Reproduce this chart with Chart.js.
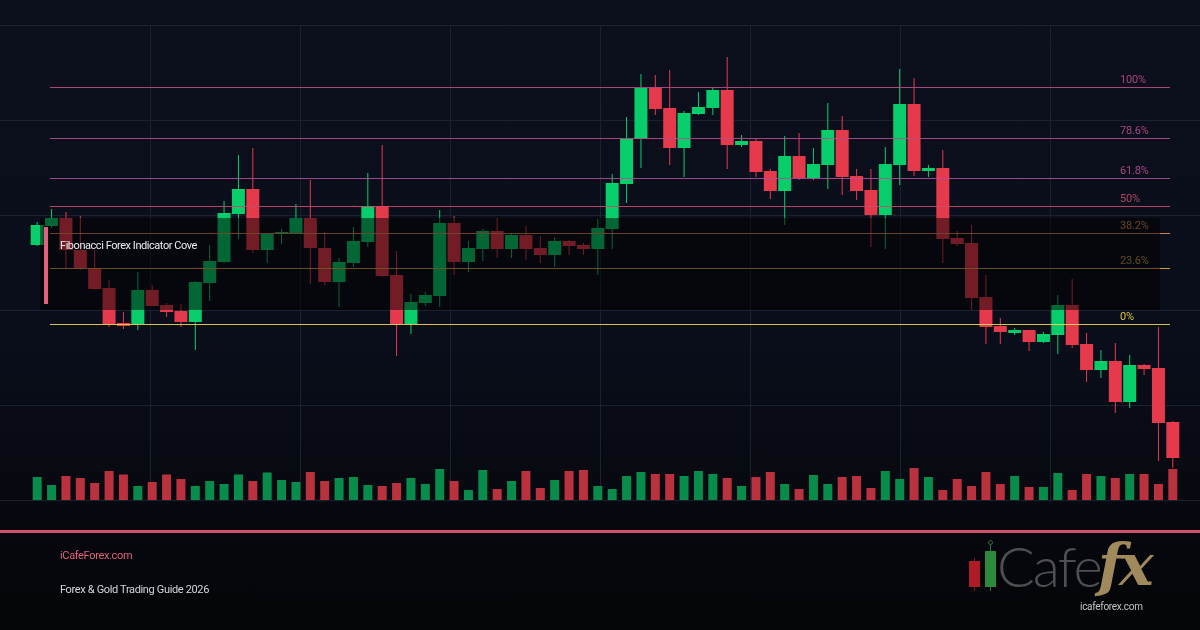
<!DOCTYPE html>
<html>
<head>
<meta charset="utf-8">
<script src="https://cdn.jsdelivr.net/npm/chart.js@4.4.1/dist/chart.umd.min.js"></script>
<style>
  html, body { margin: 0; padding: 0; }
  body {
    width: 1200px; height: 630px; overflow: hidden; position: relative;
    background: linear-gradient(180deg, #0c101d 0%, #0a0e1a 55%, #07080e 84%, #040508 100%);
    font-family: Roboto, 'Noto Sans', sans-serif;
  }
  #chart { position: absolute; left: 0; top: 0; }
  .fib-label { position: absolute; left: 1120px; font-size: 11px; line-height: 13px; letter-spacing: -0.2px; white-space: nowrap; }
  #shade { position: absolute; left: 40px; top: 218px; width: 1120px; height: 92px; background: rgba(0, 0, 0, 0.5); }
  #accent { position: absolute; left: 44px; top: 227px; width: 4px; height: 77px; background: #e0607e; }
  #title { position: absolute; left: 60px; top: 239px; color: #ececf0; font-size: 11px; line-height: 13px; letter-spacing: -0.45px; white-space: nowrap; }
  #rule { position: absolute; left: 0; top: 530px; width: 1200px; height: 3px; background: #d2506e; }
  .foot { position: absolute; left: 60px; font-size: 11px; line-height: 13px; letter-spacing: -0.35px; white-space: nowrap; }
  #site { top: 549px; color: #e0607e; }
  #guide { top: 583px; color: #d6d6da; }
  .stick { position: absolute; }
  #cafe { position: absolute; left: 997px; top: 533px; font-family: Lato, sans-serif; font-weight: 300; font-size: 56px; line-height: 66px; letter-spacing: -2px; color: #4f4f52; }
  #fx { position: absolute; left: 1098px; top: 530px; font-family: 'DejaVu Serif', serif; font-style: italic; font-weight: bold; font-size: 58px; line-height: 70px; letter-spacing: -4px; color: #a08a5c; }
  #logo-url { position: absolute; left: 1080px; top: 601px; font-size: 10px; line-height: 12px; letter-spacing: -0.3px; color: #c4c4c8; }
</style>
</head>
<body>
<canvas id="chart" width="1200" height="630"></canvas>
<div id="labels"></div>
<div id="shade"></div>
<div id="accent"></div>
<div id="title">Fibonacci Forex Indicator Cove</div>
<div id="rule"></div>
<div class="foot" id="site">iCafeForex.com</div>
<div class="foot" id="guide">Forex &amp; Gold Trading Guide 2026</div>
<div class="stick" style="left:974px;top:558px;width:1px;height:33px;background:#7d1a20"></div>
<div class="stick" style="left:969px;top:561px;width:11px;height:26px;background:#b01c26"></div>
<div class="stick" style="left:990px;top:545px;width:1px;height:46px;background:#2a7434"></div>
<div class="stick" style="left:988px;top:540px;width:3px;height:3px;border:1px solid #2a7434;border-radius:50%"></div>
<div class="stick" style="left:985px;top:551px;width:11px;height:36px;background:#2c8a3c"></div>
<div id="cafe">Cafe</div>
<div id="fx">fx</div>
<div id="logo-url">icafeforex.com</div>
<script>
// daily candles, price
const opens = [2055, 2074, 2082, 2050, 2032, 2012, 1977, 1976, 2010, 1995, 1989, 1978, 2017, 2038, 2086, 2111, 2050, 2066, 2067, 2082,
  2052, 2018, 2037, 2058, 2094, 2025, 1976, 1997, 2004, 2077, 2038, 2051, 2069, 2051, 2065, 2052, 2045, 2059, 2055, 2051,
  2071, 2116, 2161, 2212, 2192, 2152, 2186, 2192, 2210, 2155, 2159, 2129, 2109, 2144, 2122, 2135, 2170, 2124, 2110, 2085,
  2135, 2196, 2129, 2132, 2062, 2057, 2003, 1974, 1967, 1970, 1958, 1965, 1995, 1956, 1930, 1939, 1898, 1935, 1932, 1878];
const highs = [2078, 2091, 2088, 2084, 2050, 2020, 1988, 2028, 2015, 1997, 1996, 2019, 2055, 2099, 2145, 2152, 2067, 2071, 2096, 2120,
  2068, 2042, 2073, 2127, 2155, 2049, 2006, 2008, 2090, 2084, 2059, 2071, 2082, 2067, 2074, 2064, 2063, 2060, 2057, 2081,
  2126, 2183, 2226, 2225, 2230, 2189, 2208, 2212, 2243, 2165, 2162, 2131, 2164, 2167, 2152, 2197, 2184, 2131, 2131, 2153,
  2231, 2222, 2135, 2150, 2069, 2075, 2025, 1982, 1972, 1970, 1968, 2005, 2021, 1967, 1950, 1957, 1945, 1936, 1973, 1879];
const lows = [2054, 2072, 2032, 2030, 2010, 1973, 1971, 1970, 1994, 1983, 1973, 1950, 1999, 2037, 2061, 2047, 2037, 2056, 2066, 2016,
  2015, 1993, 2033, 2053, 2023, 1944, 1966, 1994, 1993, 2025, 2028, 2039, 2042, 2042, 2040, 2037, 2033, 2045, 2045, 2025,
  2051, 2097, 2132, 2185, 2135, 2123, 2185, 2185, 2131, 2153, 2123, 2101, 2075, 2120, 2120, 2111, 2105, 2100, 2053, 2051,
  2115, 2124, 2123, 2037, 2054, 1990, 1956, 1956, 1965, 1949, 1957, 1946, 1952, 1918, 1922, 1887, 1892, 1925, 1839, 1832];
const closes = [2075, 2082, 2050, 2032, 2011, 1976, 1974, 2010, 1994, 1988, 1978, 2018, 2039, 2087, 2111, 2050, 2066, 2068, 2082, 2052,
  2018, 2038, 2059, 2094, 2024, 1976, 1998, 2005, 2077, 2038, 2052, 2069, 2051, 2065, 2051, 2045, 2059, 2054, 2051, 2072,
  2117, 2161, 2212, 2191, 2152, 2187, 2193, 2210, 2155, 2159, 2128, 2109, 2144, 2122, 2136, 2170, 2123, 2109, 2085, 2136,
  2196, 2129, 2132, 2061, 2056, 2002, 1973, 1968, 1970, 1958, 1966, 1995, 1955, 1930, 1939, 1898, 1935, 1931, 1877, 1842];
const volumes = [2300, 1500, 2400, 2200, 1700, 2900, 2550, 1400, 1800, 2550, 2100, 1400, 1900, 1600, 2550, 1900, 2750, 2000, 1800, 2800,
  1900, 2200, 2300, 1500, 1400, 1700, 2200, 1600, 3100, 1900, 1000, 3000, 1100, 1900, 2900, 1200, 2000, 2900, 3000, 1400,
  1100, 2400, 2800, 2600, 2600, 2400, 2900, 2600, 2200, 1400, 2300, 2800, 1600, 1100, 2500, 1600, 2300, 2400, 1200, 2900,
  2100, 3200, 2300, 1000, 2100, 1400, 2800, 1600, 2400, 1300, 1300, 2700, 1000, 2600, 2400, 2200, 2600, 2600, 1600, 3100];

// fibonacci retracement between swing low and swing high
const swingLow = 1976;
const swingHigh = 2213;
const fibRatios = [1, 0.786, 0.618, 0.5, 0.382, 0.236, 0];
const fibTexts = ['100%', '78.6%', '61.8%', '50%', '38.2%', '23.6%', '0%'];

const FIB_COLORS = ['#b84c86', '#b54c8e', '#ad4f99', '#c94d68', '#e48f58', '#e4a94f', '#ead94c'];
const LABEL_COLORS = ['#a8447e', '#a84684', '#a84686', '#b0485e', '#d2834e', '#c6963f', '#d8c444'];
const UP = '#07cd6b';
const DOWN = '#e43a4b';
const VOL_UP = '#078c4b';
const VOL_DOWN = '#b9323e';

const byId = (id) => document.getElementById(id);
const isUp = (i) => closes[i] >= opens[i];
const labels = opens.map((_, i) => `D${i + 1}`);

byId('labels').innerHTML = fibTexts.map((t, i) =>
  `<div class="fib-label" id="fib-${i}" style="color:${LABEL_COLORS[i]}">${t}</div>`).join('');

const gridPlugin = {
  id: 'grid',
  beforeDatasetsDraw(chart) {
    const { ctx } = chart;
    ctx.save();
    ctx.strokeStyle = '#1c2132';
    ctx.lineWidth = 1;
    ctx.beginPath();
    for (let y = 25; y <= 500; y += 95) { ctx.moveTo(0, y + 0.5); ctx.lineTo(1200, y + 0.5); }
    for (let x = 150; x < 1200; x += 150) { ctx.moveTo(x + 0.5, 25); ctx.lineTo(x + 0.5, 500); }
    ctx.stroke();
    ctx.restore();
  }
};

const fibPlugin = {
  id: 'fib',
  afterDatasetsDraw(chart) {
    const { ctx, scales: { y } } = chart;
    fibRatios.forEach((r, i) => {
      const py = Math.round(y.getPixelForValue(swingLow + r * (swingHigh - swingLow))) + 0.5;
      ctx.save();
      ctx.strokeStyle = FIB_COLORS[i];
      ctx.globalAlpha = 0.9;
      ctx.lineWidth = 1;
      ctx.beginPath();
      ctx.moveTo(50, py);
      ctx.lineTo(1170, py);
      ctx.stroke();
      ctx.restore();
      byId(`fib-${i}`).style.top = `${py - 15}px`;
    });
  }
};

new Chart(byId('chart'), {
  type: 'bar',
  data: {
    labels,
    datasets: [
      {
        label: 'body',
        data: opens.map((o, i) => [o, closes[i]]),
        backgroundColor: opens.map((_, i) => (isUp(i) ? UP : DOWN)),
        barThickness: 13,
        minBarLength: 2,
        yAxisID: 'y',
        order: 1
      },
      {
        label: 'wick',
        data: lows.map((l, i) => [l, highs[i]]),
        backgroundColor: opens.map((_, i) => (isUp(i) ? UP : DOWN)),
        barThickness: 1,
        yAxisID: 'y',
        order: 2
      },
      {
        label: 'volume',
        data: volumes,
        backgroundColor: opens.map((_, i) => (isUp(i) ? VOL_UP : VOL_DOWN)),
        barThickness: 9,
        yAxisID: 'yv',
        order: 3
      }
    ]
  },
  options: {
    responsive: false,
    animation: false,
    devicePixelRatio: 1,
    layout: { padding: { left: 30, right: 20, top: 25, bottom: 130 } },
    datasets: { bar: { grouped: false, borderWidth: 0, inflateAmount: 0 } },
    plugins: { legend: { display: false }, tooltip: { enabled: false } },
    scales: {
      x: { display: false, offset: true },
      y: { display: false, min: 1800, max: 2275 },
      yv: { display: false, min: 0, max: 47500 }
    }
  },
  plugins: [gridPlugin, fibPlugin]
});
</script>
</body>
</html>
